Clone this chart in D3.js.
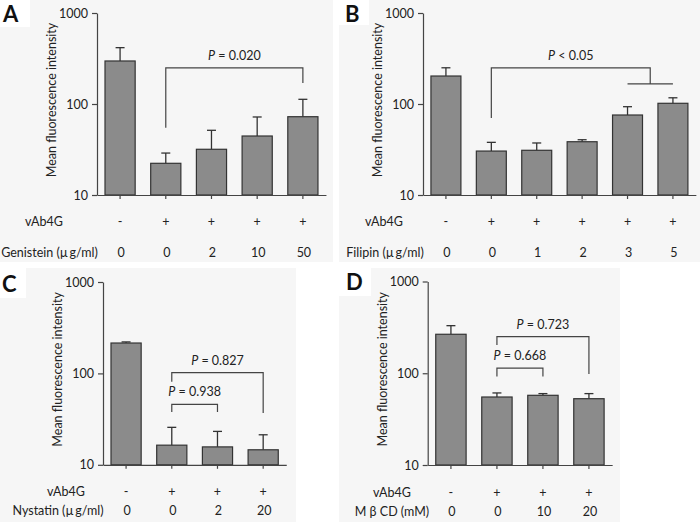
<!DOCTYPE html>
<html>
<head>
<meta charset="utf-8">
<script src="https://cdn.jsdelivr.net/npm/d3@7"></script>
<style>
  body { margin: 0; background: #fff; }
  svg { display: block; font-family: Lato, "Open Sans", sans-serif; }
</style>
</head>
<body>
<div id="chart"></div>
<script>
// Panel A - Genistein
const vabA = ["-", "+", "+", "+", "+"];
const doseA = ["0", "0", "2", "10", "50"];
const meanA = [297, 22.3, 31.8, 44.5, 72.5];
const upperA = [416, 28.9, 51.4, 72, 112.6];

// Panel B - Filipin
const vabB = ["-", "+", "+", "+", "+", "+"];
const doseB = ["0", "0", "1", "2", "3", "5"];
const meanB = [203, 30.4, 31, 38.5, 75.7, 101.8];
const upperB = [250, 37.9, 37.3, 40.5, 93.4, 117];

// Panel C - Nystatin
const vabC = ["-", "+", "+", "+"];
const doseC = ["0", "0", "2", "20"];
const meanC = [215, 16.4, 15.7, 14.6];
const upperC = [221, 25.7, 23.2, 21.3];

// Panel D - MbCD
const vabD = ["-", "+", "+", "+"];
const doseD = ["0", "0", "10", "20"];
const meanD = [266, 55.1, 57.5, 52.8];
const upperD = [330, 61, 60, 60];

const yTicks = [10, 100, 1000];

// significance brackets (values in data units)
const bracketsA = [{ from: 1, to: 4, level: 249, leftEnd: 55, rightEnd: 170, op: "=", p: "0.020" }];
const bracketsB = [{ from: 1, to: 4.5, level: 249, leftEnd: 70, rightEnd: 166, op: "<", p: "0.05", sub: [4, 5] }];
const bracketsC = [
    { from: 1, to: 3, level: 101.8, leftEnd: 81, rightEnd: 36.9, op: "=", p: "0.827" },
    { from: 1, to: 2, level: 45.9, leftEnd: 37.8, rightEnd: 37.8, op: "=", p: "0.938" }
];
const bracketsD = [
    { from: 1, to: 3, level: 251, leftEnd: 203, rightEnd: 98.3, op: "=", p: "0.723" },
    { from: 1, to: 2, level: 114, leftEnd: 92, rightEnd: 92, op: "=", p: "0.668" }
];

const width = 700;
const height = 522;

const svg = d3.select("#chart")
    .append("svg")
    .attr("width", width)
    .attr("height", height)
    .attr("viewBox", [0, 0, width, height]);

// light grey panel backgrounds, white boxes behind the letters
const bgs = [[0, 0, 333, 262], [339, 0, 361, 262], [0, 268, 296, 254], [339, 268, 281, 254]];
svg.selectAll("rect.bg").data(bgs).join("rect")
    .attr("class", "bg")
    .attr("x", d => d[0]).attr("y", d => d[1])
    .attr("width", d => d[2]).attr("height", d => d[3])
    .attr("fill", "#f6f6f6");
const boxes = [[0, 0, 30, 27], [339, 0, 30, 25], [0, 268, 26, 30], [339, 268, 32, 28]];
svg.selectAll("rect.box").data(boxes).join("rect")
    .attr("class", "box")
    .attr("x", d => d[0]).attr("y", d => d[1])
    .attr("width", d => d[2]).attr("height", d => d[3])
    .attr("fill", "#fff");

const panels = [
    { letter: "A", lx: 3, ly: 22, axisX: 97, yTop: 13, yBottom: 195, step: 45.7,
      vab: vabA, dose: doseA, mean: meanA, upper: upperA, brackets: bracketsA,
      label: "Genistein (\u00b5\u2009g/ml)", vabX: 44, doseX: 49.5, row1: 26, row2: 57 },
    { letter: "B", lx: 345, ly: 22, axisX: 423, yTop: 13, yBottom: 195, step: 45.4,
      vab: vabB, dose: doseB, mean: meanB, upper: upperB, brackets: bracketsB,
      label: "Filipin (\u00b5\u2009g/ml)", vabX: 384, doseX: 385, row1: 26, row2: 57 },
    { letter: "C", lx: 2, ly: 292, axisX: 103, yTop: 282, yBottom: 464.8, step: 45.7,
      vab: vabC, dose: doseC, mean: meanC, upper: upperC, brackets: bracketsC,
      label: "Nystatin (\u00b5\u2009g/ml)", vabX: 66, doseX: 58, row1: 27, row2: 46 },
    { letter: "D", lx: 346, ly: 290, axisX: 427.7, yTop: 281.5, yBottom: 465, step: 46,
      vab: vabD, dose: doseD, mean: meanD, upper: upperD, brackets: bracketsD,
      label: "M \u03b2 CD (mM)", vabX: 392, doseX: 392, row1: 27, row2: 46 }
];

const ink = "#333";
const padIn = 0.34;
const padOut = 0.175;

panels.forEach(drawPanel);

function drawPanel(p) {
    const g = svg.append("g");
    const n = p.mean.length;

    // Create the positional scales.
    const x = d3.scaleBand()
        .domain(d3.range(n))
        .range([p.axisX, p.axisX + p.step * (n - padIn + 2 * padOut)])
        .paddingInner(padIn)
        .paddingOuter(padOut);
    const cx = i => {
        const lo = Math.floor(i), hi = Math.ceil(i);
        const a = x(lo) + x.bandwidth() / 2, b = x(hi) + x.bandwidth() / 2;
        return a + (b - a) * (i - lo);
    };

    const y = d3.scaleLog()
        .domain([10, 1000])
        .range([p.yBottom, p.yTop]);

    // panel letter
    g.append("text")
        .attr("x", p.lx)
        .attr("y", p.ly)
        .attr("font-size", 22)
        .attr("font-weight", "bold")
        .attr("fill", "#111")
        .text(p.letter);

    // error bars (drawn under the bars)
    const err = g.append("g").attr("stroke", ink).attr("stroke-width", 1.3);
    err.selectAll("line.v")
        .data(d3.range(n))
        .join("line")
        .attr("class", "v")
        .attr("x1", i => cx(i)).attr("x2", i => cx(i))
        .attr("y1", i => y(p.mean[i])).attr("y2", i => y(p.upper[i]));
    err.selectAll("line.cap")
        .data(d3.range(n))
        .join("line")
        .attr("class", "cap")
        .attr("x1", i => cx(i) - 4.5).attr("x2", i => cx(i) + 4.5)
        .attr("y1", i => y(p.upper[i])).attr("y2", i => y(p.upper[i]));

    // bars
    g.append("g")
        .selectAll("rect")
        .data(d3.range(n))
        .join("rect")
        .attr("x", i => x(i))
        .attr("width", x.bandwidth())
        .attr("y", i => y(p.mean[i]))
        .attr("height", i => y(10) - y(p.mean[i]))
        .attr("fill", "#8b8b8b")
        .attr("stroke", ink)
        .attr("stroke-width", 1.2);

    // x axis
    g.append("g")
        .attr("transform", `translate(0,${p.yBottom})`)
        .call(d3.axisBottom(x).tickSize(4).tickSizeOuter(0).tickFormat(""))
        .call(a => a.selectAll("path, line").attr("stroke", "#444").attr("stroke-width", 1.2));

    // y axis
    g.append("g")
        .attr("transform", `translate(${p.axisX},0)`)
        .call(d3.axisLeft(y).tickValues(yTicks).tickFormat(d3.format("d")).tickSize(5).tickSizeOuter(0).tickPadding(4))
        .call(a => a.selectAll("path, line").attr("stroke", "#444").attr("stroke-width", 1.2))
        .call(a => a.selectAll("text")
            .attr("font-family", "Lato, sans-serif")
            .attr("font-size", 12.5)
            .attr("fill", "#222"));

    // y axis title
    g.append("text")
        .attr("transform", `translate(${p.axisX - 41},${(p.yTop + p.yBottom) / 2 - 4}) rotate(-90)`)
        .attr("text-anchor", "middle")
        .attr("font-size", 12.5)
        .attr("fill", "#222")
        .text("Mean fluorescence intensity");

    // category rows
    const rows = g.append("g").attr("font-size", 12.5).attr("fill", "#222").attr("text-anchor", "middle");
    rows.append("text")
        .attr("x", p.vabX).attr("y", p.yBottom + p.row1 + 4.5)
        .text("vAb4G");
    rows.append("text")
        .attr("x", p.doseX).attr("y", p.yBottom + p.row2 + 4.5)
        .text(p.label);
    rows.selectAll("text.vab")
        .data(p.vab)
        .join("text")
        .attr("class", "vab")
        .attr("x", (d, i) => cx(i))
        .attr("y", p.yBottom + p.row1 + 4.5)
        .text(d => d);
    rows.selectAll("text.dose")
        .data(p.dose)
        .join("text")
        .attr("class", "dose")
        .attr("x", (d, i) => cx(i) + 1)
        .attr("y", p.yBottom + p.row2 + 4.5)
        .text(d => d);

    // significance brackets
    const br = g.append("g")
        .selectAll("g")
        .data(p.brackets)
        .join("g");
    br.append("path")
        .attr("fill", "none")
        .attr("stroke", "#444")
        .attr("stroke-width", 1.2)
        .attr("d", d => {
            let s = `M${cx(d.from)},${y(d.leftEnd)}V${y(d.level)}H${cx(d.to)}V${y(d.rightEnd)}`;
            if (d.sub) s += `M${cx(d.sub[0])},${y(d.rightEnd)}H${cx(d.sub[1])}`;
            return s;
        });
    const t = br.append("text")
        .attr("x", d => (cx(d.from) + cx(d.to)) / 2)
        .attr("y", d => y(d.level) - 8)
        .attr("text-anchor", "middle")
        .attr("font-size", 12.5)
        .attr("fill", "#222");
    t.append("tspan").attr("font-style", "italic").text("P");
    t.append("tspan").text(d => ` ${d.op} ${d.p}`);
}
</script>
</body>
</html>
